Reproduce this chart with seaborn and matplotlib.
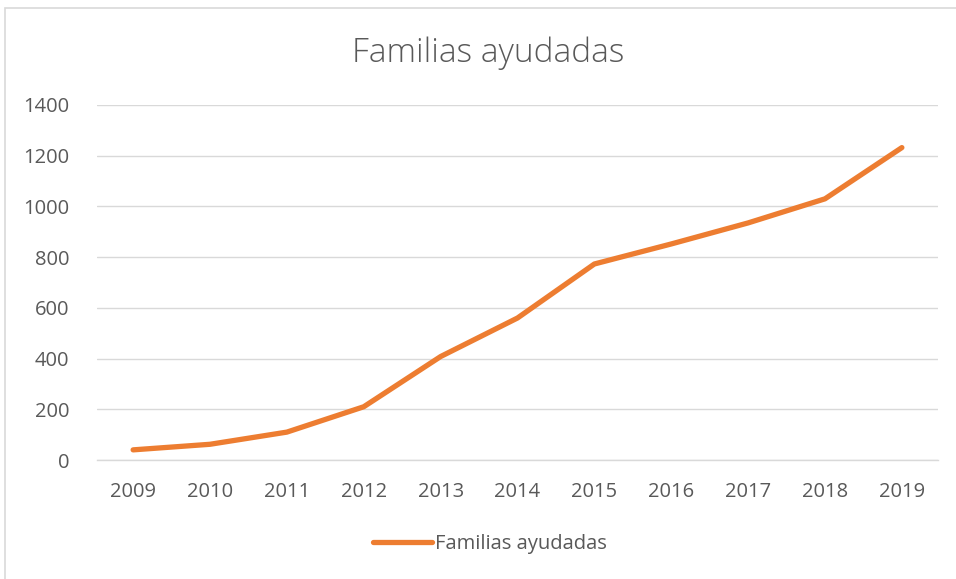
import matplotlib
matplotlib.use("Agg")
import matplotlib.pyplot as plt
import seaborn as sns
import pandas as pd
from matplotlib.patches import Rectangle
from matplotlib.lines import Line2D

years = ["2009", "2010", "2011", "2012", "2013", "2014", "2015", "2016", "2017", "2018", "2019"]
familias = [40, 62, 110, 210, 408, 560, 773, 852, 935, 1030, 1232]
yticks = [0, 200, 400, 600, 800, 1000, 1200, 1400]
title = "Familias ayudadas"
series_name = "Familias ayudadas"

df = pd.DataFrame({"year": years, "value": familias, "serie": series_name})

sns.set_theme(style="white")
plt.rcParams["font.family"] = ["Open Sans", "DejaVu Sans"]

W, H = 956, 579
fig = plt.figure(figsize=(W / 100, H / 100), dpi=100)
ax = fig.add_axes([97 / W, 1 - 460 / H, (938 - 97) / W, (460 - 105) / H])

sns.lineplot(data=df, x="year", y="value", hue="serie", palette=["#ED7D31"],
             linewidth=3.8, ax=ax, sort=False, legend=False,
             solid_capstyle="round", solid_joinstyle="round")

ax.set_xlim(-0.47, len(years) - 0.53)
ax.set_ylim(0, 1400)
ax.set_yticks(yticks)
ax.set_yticklabels([str(v) for v in yticks])
ax.yaxis.grid(True, color="#D9D9D9", linewidth=1.0)
ax.xaxis.grid(False)
for s in ["top", "right", "left"]:
    ax.spines[s].set_visible(False)
ax.spines["bottom"].set_color("#D9D9D9")
ax.spines["bottom"].set_linewidth(1.0)
ax.tick_params(axis="both", length=0, labelsize=14.5, labelcolor="#595959")
ax.tick_params(axis="y", pad=20)
ax.tick_params(axis="x", pad=16)
ax.set_xlabel("")
ax.set_ylabel("")

fig.text(488 / W, 1 - 53 / H, title, ha="center", va="center",
         fontsize=24, color="#595959", fontweight="light")

handle = Line2D([0], [0], color="#ED7D31", linewidth=3.8, solid_capstyle="round")
fig.legend([handle], [series_name], loc="center", bbox_to_anchor=(490 / W, 1 - 544 / H),
           frameon=False, fontsize=14.5, labelcolor="#595959", handlelength=2.9,
           handletextpad=0.15)

fig.patches.append(Rectangle((4.5 / W, -0.2), 1.0, 1.2 - 7.5 / H, transform=fig.transFigure,
                             fill=False, edgecolor="#D9D9D9", linewidth=1.2))

fig.savefig("out.png", dpi=100, facecolor="white")
